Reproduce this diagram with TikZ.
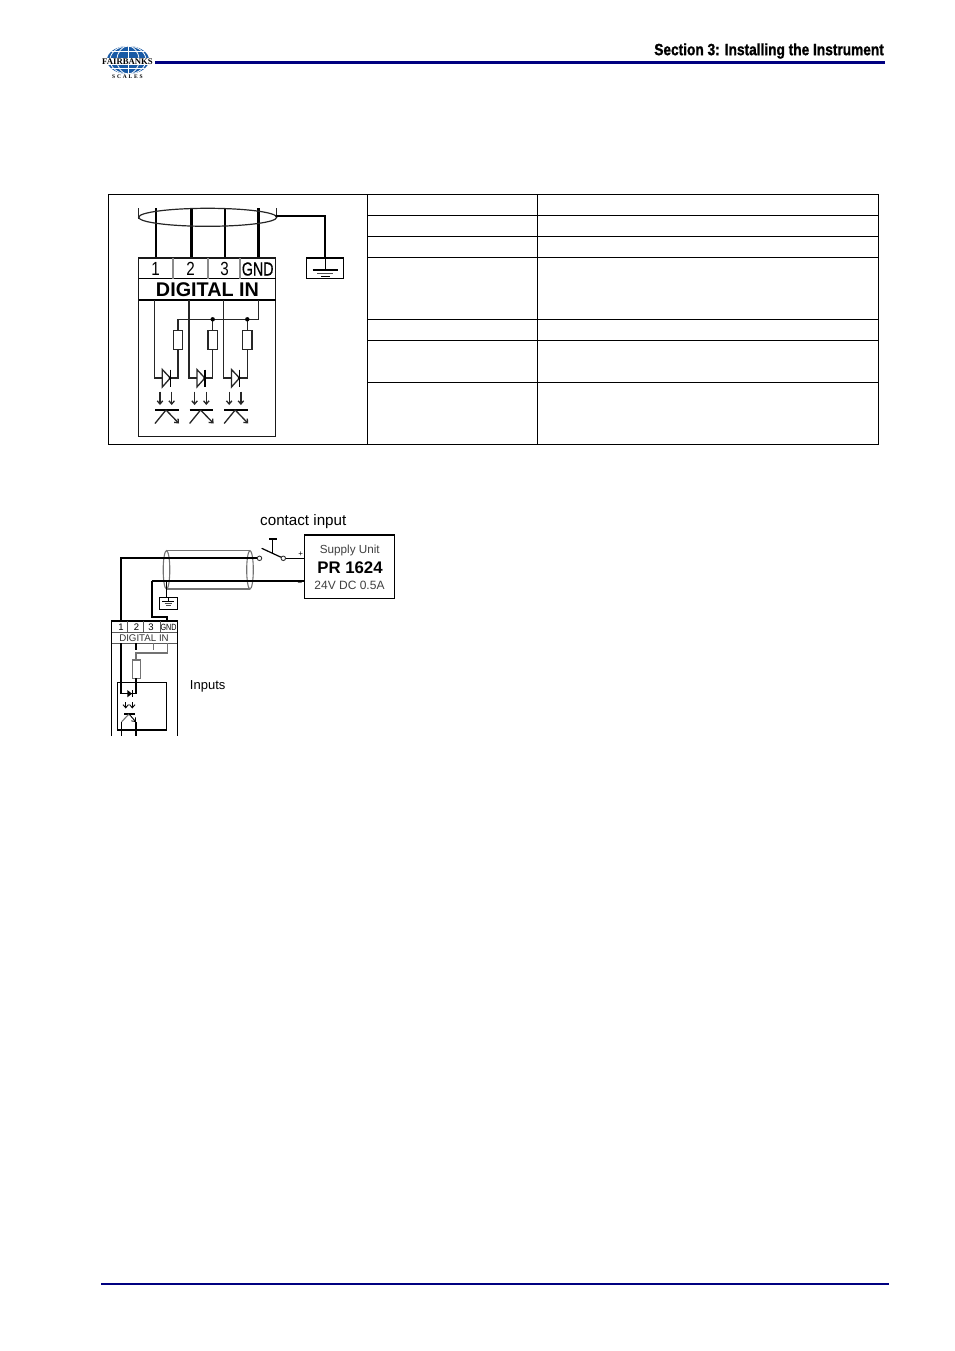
\documentclass[tikz,border=0pt]{standalone}
\usepackage{fontspec}
\setmainfont{Liberation Sans}
\newfontfamily\headfont[FakeStretch=0.84,FakeBold=1.2]{Liberation Sans Bold}
\newfontfamily\logofont{Liberation Serif Bold}
\usetikzlibrary{arrows.meta}
\definecolor{navyrule}{RGB}{0,0,128}
\definecolor{globeblue}{RGB}{25,90,165}
\tikzset{
  rule/.style={draw=navyrule,line width=2.4pt},
  cell/.style={draw=black,line width=1pt},
  wire/.style={draw=black,line width=2.4pt},
  thinw/.style={draw=black!85,line width=1.3pt},
  gwire/.style={draw=black!55,line width=1.1pt},
  bigbox/.style={draw=black!90,line width=1.5pt},
  label/.style={inner sep=0pt,text=black},
  barb/.style={-{Straight Barb[length=3.2pt,width=5.5pt]}},
  dot/.style={circle,fill=black,inner sep=0pt,minimum size=3.5pt},
  ring/.style={circle,draw=black!80,fill=white,line width=.9pt,inner sep=0pt,minimum size=4.5pt},
}
\newcommand{\fs}[1]{\fontsize{#1}{#1}\selectfont}
\begin{document}
\begin{tikzpicture}[x=1pt,y=-1pt]
\useasboundingbox (0,0) rectangle (954,1351);

% --- header
\fill[globeblue] (128,60) ellipse (21 and 14);
\begin{scope}
\clip (128,60) ellipse (21 and 14);
\draw[white,line width=.8pt] (128,46) -- (128,74);
\draw[white,line width=.8pt] (128,60) ellipse (11 and 14);
\draw[white,line width=.8pt] (128,60) ellipse (18 and 14);
\draw[white,line width=.8pt] (107,51.5) -- (149,51.5) (107,68) -- (149,68);
\end{scope}
\node[label,fill=white,inner xsep=.5pt,inner ysep=.5pt,font=\logofont\fs{8.7}] (logotext) at (127.5,61.5) {FAIRBANKS};
\node[label,font=\logofont\fs{5.5}] (logoscales) at (127.5,77) {S\,\,C\,\,A\,\,L\,\,E\,\,S};
\coordinate (ruleL) at (155,62.5);
\coordinate (ruleR) at (885,62.5);
\draw[rule] (ruleL) -- (ruleR);
\node[label,anchor=east,font=\headfont\fs{16.3}] (section) at (884,51) {Section 3: Installing the Instrument};
\coordinate (footL) at (101,1284);
\coordinate (footR) at (889,1284);
\draw[rule,line width=2pt] (footL) -- (footR);

% --- table
\draw[cell] (108.5,194.5) rectangle (878.5,444.5);
\draw[cell] (367.5,194.5) -- (367.5,444.5) (537.5,194.5) -- (537.5,444.5);
\foreach \y in {215.5,236.5,257.5,319.5,340.5,382.5}
  \draw[cell] (367.5,\y) -- (878.5,\y);

% --- DIGITAL IN (large)
\foreach \x in {155.7,191.5,225,258.3}
  \draw[wire] (\x,208) -- (\x,257);
\draw[black!85,line width=1.2pt] (207.7,217.3) ellipse (69 and 9);
\draw[black!85,line width=1.2pt] (138.5,208) -- (138.5,219) (276.7,208) -- (276.7,217);
\node[dot,minimum size=3pt] (shieldend) at (276.5,216) {};
\coordinate (gndTop) at (325,257.5);
\draw[wire] (shieldend.center) -| (gndTop);
\node[draw=black,line width=1.4pt,inner sep=0pt,minimum width=37pt,minimum height=20.5pt] (gndbox) at (325.2,268.3) {};
\draw[black,line width=1.2pt] (gndbox.north) -- (325.2,270);
\draw[black,line width=1.2pt] (312.5,270) -- (337.5,270);
\draw[black!70,line width=1.1pt] (317,273.3) -- (333,273.3);
\draw[black,line width=1.2pt] (321,276.3) -- (329.5,276.3);

\draw[bigbox] (138.5,258) rectangle (275.5,436.5);
\draw[black,line width=1.2pt] (138.5,278.5) -- (275.5,278.5) (138.5,300) -- (275.5,300);
\draw[black!45,line width=1.1pt] (173,258) -- (173,278.5) (208,258) -- (208,278.5) (240,258) -- (240,278.5);
\node[label,font=\fs{19}] (t1) at (155.5,269) {\addfontfeature{FakeStretch=.8}1};
\node[label,font=\fs{19}] (t2) at (190.5,269) {\addfontfeature{FakeStretch=.8}2};
\node[label,font=\fs{19}] (t3) at (224.5,269) {\addfontfeature{FakeStretch=.8}3};
\node[label] (tg) at (257.7,269) {\fs{19}\addfontfeature{FakeStretch=.75,FakeBold=.5}GND};
\node[label,font=\bfseries\fs{19.8}] (dig) at (207.5,290) {DIGITAL IN};
\draw[thinw] (177.7,319.3) -- (258.3,319.3) -- (258.3,300);
\foreach \d in {0,34.6,69.2}{
  \begin{scope}[shift={(\d,0)}]
    \draw[thinw] (154.5,300) |- (162.3,378);
    \draw[thinw] (170.3,378) -- (178,378) -- (178,349.3);
    \draw[thinw] (178,330.7) -- (178,319.3);
    \draw[thinw] (173.3,330.7) rectangle (182.7,349.3);
    \draw[thinw] (162.3,369.5) -- (162.3,387) -- (170.3,378) -- cycle;
    \draw[black,line width=1.3pt] (170.3,369.5) -- (170.3,387);
    \fill (170,378) circle (1.5);
    \draw[thinw,barb] (160,391.5) -- (160,405);
    \draw[thinw,barb] (171.7,391.5) -- (171.7,405);
    \draw[black,line width=1.4pt] (155,410) -- (178.5,410);
    \draw[thinw] (166,410) -- (155,423.5);
    \draw[thinw,barb] (166,410) -- (179,423.5);
  \end{scope}
}
\fill (212.7,319.3) circle (2.2) (247.3,319.3) circle (2.2);
\draw[thinw] (189,300) -- (189,319.3);
\draw[thinw] (223.6,300) -- (223.6,319.3);

% --- contact input example
\draw[gwire] (166.7,550.7) -- (249.7,550.7) (166.7,589) -- (249.7,589);
\draw[gwire] (166.5,569.8) ellipse (3.3 and 19.2);
\draw[gwire] (250,569.8) ellipse (3.3 and 19.2);
\node[ring] (r1) at (259.5,558.3) {};
\node[ring] (r2) at (283.3,558.3) {};
\coordinate (w1) at (120.7,621);
\draw[black,line width=2pt] (w1) |- (r1.west);
\node[draw=black,line width=1.6pt,inner sep=0pt,minimum width=90pt,minimum height=63.5pt] (psu) at (349.3,566.7) {};
\draw[black,line width=1.4pt] (r2.east) -- (r2.east-|psu.west);
\coordinate (w2) at (151.7,580.7);
\coordinate (gwT) at (166.7,622);
\draw[black,line width=1.6pt] (w2) -- (w2-|psu.west);
\draw[black,line width=1.6pt] (w2) -- (151.7,616.7) -| (gwT);
\draw[black,line width=1.2pt] (261.7,548.3) -- (r2);
\draw[black,line width=1.2pt] (272.7,539) -- (272.7,553);
\draw[black,line width=1.4pt] (269,539) -- (276.5,539);
\node[label,font=\fs{15.2}] (contact) at (303.3,522) {contact input};
\node[label,text=black!75,font=\fs{11.7}] (supply) at (349.8,550.5) {Supply Unit};
\node[label,font=\bfseries\fs{16.8}] (pr) at (350,568) {PR 1624};
\node[label,text=black!75,font=\fs{12}] (volt) at (349.5,585) {24V DC 0.5A};
\node[label,font=\fs{8}] (plus) at (300.7,554) {+};
\node[label,font=\fs{8}] (minus) at (300,584.5) {\textminus};

\node[draw=black,line width=1.2pt,inner sep=0pt,minimum width=18pt,minimum height=12pt] (gs) at (168.3,603.3) {};
\draw[black,line width=1.2pt] (166.7,580.7) -- (166.7,597.3);
\draw[black,line width=.9pt] (168.3,597.3) -- (168.3,601.7) (162,601.7) -- (174,601.7);
\draw[black!70,line width=.9pt] (164.5,603.7) -- (172,603.7);
\draw[black!70,line width=.9pt] (166,605.7) -- (170.5,605.7);

% --- DIGITAL IN (small, cut off)
\draw[black,line width=1.5pt] (111.7,736) -- (111.7,621) -- (177.3,621) -- (177.3,736);
\draw[black!65,line width=.9pt] (111.7,632.3) -- (177.3,632.3) (111.7,643.3) -- (177.3,643.3);
\draw[black!65,line width=.9pt] (127.3,621) -- (127.3,632.3) (143.3,621) -- (143.3,632.3) (160,621) -- (160,632.3);
\node[label,font=\fs{9.5}] (s1) at (121,627.5) {1};
\node[label,font=\fs{9.5}] (s2) at (136.5,627.5) {2};
\node[label,font=\fs{9.5}] (s3) at (151,627.5) {3};
\node[label] (sg) at (168.5,627.5) {\fs{9}\addfontfeature{FakeStretch=.8}GND};
\node[label,text=black!80,font=\fs{9.7}] (sd) at (144,638.5) {DIGITAL IN};
\draw[black,line width=1.1pt] (121,643.3) -- (121,693.7) -- (136,693.7);
\draw[black,line width=1.1pt] (136,643.3) -- (136,650);
\draw[gwire] (153.3,643.3) -- (153.3,650);
\draw[gwire] (167.3,643.3) -- (167.3,653) -- (136,653) -- (136,660);
\draw[gwire] (132.3,660) rectangle (140.7,678.3);
\draw[black,line width=1.1pt] (136,678.3) -- (136,693.7);
\draw[black,line width=1.1pt] (117.3,682.7) rectangle (166.7,730);
\fill (127.3,690) -- (127.3,697.3) -- (132,693.7) -- cycle;
\draw[black,line width=1.1pt] (132.7,690) -- (132.7,697.3);
\draw[black,line width=.9pt,barb] (125.7,702) -- (125.7,708.5);
\draw[black,line width=.9pt,barb] (132.3,702) -- (132.3,708.5);
\draw[black,line width=1.3pt] (124.3,714) -- (135,714);
\draw[gwire] (129,714) -- (121.7,721.7);
\draw[black,line width=1.1pt] (121.7,721.7) -- (121.7,736);
\draw[black,line width=.9pt,barb] (129,714) -- (136,722);
\draw[black,line width=1.1pt] (136,722) -- (136,736);
\node[label,font=\fs{13}] (inputs) at (207.7,686) {Inputs};
\end{tikzpicture}
\end{document}
